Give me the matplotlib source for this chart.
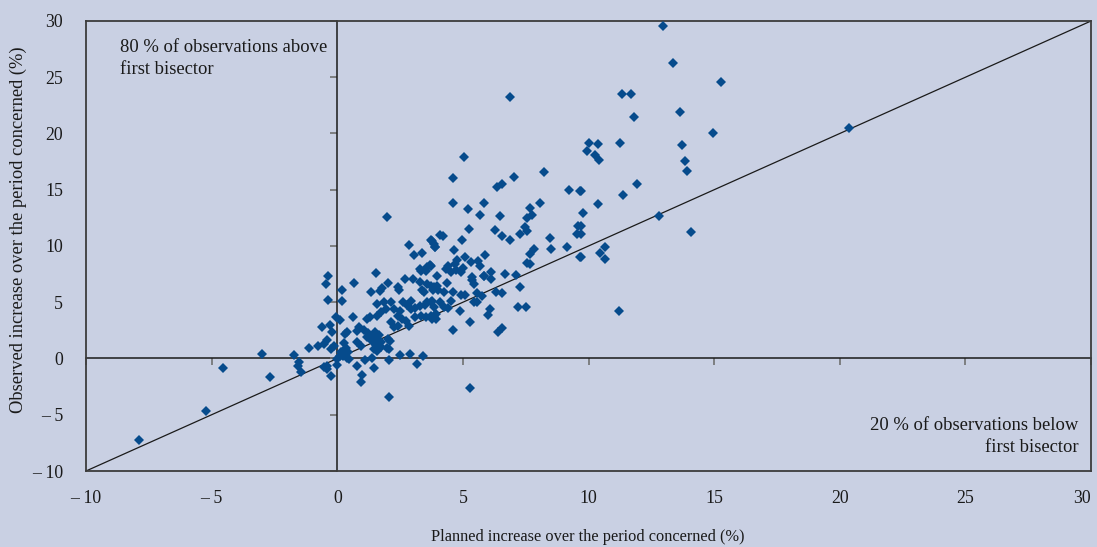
import matplotlib
matplotlib.use("Agg")
import matplotlib.pyplot as plt

# Planned vs observed increase (%) for each observation
planned = [
    12.97, 13.35, 15.26, 11.32, 11.70, 11.80, 13.65, 14.96, 11.24, 10.02,
    10.36, 9.94, 10.25, 10.41, 13.74, 13.84, 13.94, 11.95, 11.36, 9.69,
    10.37, 9.80, 12.80, 14.06, 9.69, 9.69, 10.65, 10.46, 10.65, 9.69,
    11.23, 20.36, 6.87,
    5.06, 4.60, 7.05, 8.23, 6.34, 6.57, 9.24, 9.66, 4.60, 5.84,
    5.22, 5.70, 6.46, 7.67, 8.06, 7.77, 7.57, 9.57, 9.56, 5.26,
    6.26, 7.48, 7.57, 6.56, 6.88, 7.26, 4.21, 3.72, 3.85, 3.91,
    4.98, 8.47, 8.50, 9.16, 9.65, 4.66, 5.87, 7.66, 7.83, 7.54,
    7.67, 5.10, 5.62, 5.68, 5.31, 4.77, 4.68, 4.41, 4.31, 4.52,
    4.72, 5.01, 4.92, 3.72, 3.99, 5.35, 5.83, 6.10, 6.67, 7.13,
    5.35, 5.45, 5.84, 6.11, 3.72, 3.85, 4.37, 7.26, 4.01, 4.23,
    4.59, 4.92, 5.09, 5.58, 5.78, 6.31, 6.54, 3.72, 3.85, 4.08,
    4.25, 4.52, 5.45, 5.58, 4.39, 4.88, 6.07, 6.00, 7.20, 7.50,
    3.85, 3.92, 3.72, 5.30, 4.62, 6.54, 6.38, 5.30,
    -0.38, -0.46, 1.53, 0.66, 0.19, -0.38, 0.17, 1.33, 1.69, 1.77,
    2.02, 2.40, 2.46, 2.70, 3.03, 3.32, 3.55, 3.30, 3.59, 3.39,
    3.46, 3.99, 3.81, 1.60, 1.86, 2.13, 1.93, 1.73, 1.60, 2.26,
    2.50, 2.63, 2.77, 2.95, 2.95, 3.08, 3.30, 3.48, 3.59, 3.79,
    2.40, 2.56, 2.73, 2.86, 3.08, 3.32, 3.52, 3.79, 3.92, 2.13,
    2.26, 2.40, 1.17, 1.31, 0.64, -0.05, 0.11, -0.29, -0.62, -0.19,
    0.30, 0.38, 0.80, 0.87, 1.07, 1.23, 1.33, 1.49, 1.60, 1.66,
    1.20, 1.40, 1.53, 1.73, 1.97, 1.46, 1.60, 1.73, 2.10, 2.06,
    2.02, 0.80, 0.94, 0.25, 0.34, -0.39, -0.53, -0.26, -0.13, -0.75,
    -1.12, 0.14, 0.21, 0.41, 0.38, 0.47, 0.11, 0.00, -1.72, -1.52,
    -1.58, -1.45, -0.53, -0.42, -0.39, -0.02, -0.26, 0.78, 1.00, 0.94,
    1.09, 1.40, 1.46, 2.06, 2.50, 2.90, 3.16, 3.43, 2.04,
    1.97, 2.85, 3.06, 3.39, 3.79, 3.88, 4.08, 3.30, 3.59, 3.69,
    -7.90, -5.23, -4.56, -3.00, -2.69,
]
observed = [
    29.56, 26.25, 24.56, 23.47, 23.47, 21.46, 21.93, 20.04, 19.18, 19.12,
    19.03, 18.41, 18.06, 17.64, 18.94, 17.52, 16.70, 15.48, 14.54, 14.89,
    13.77, 12.97, 12.67, 11.20, 11.78, 11.05, 9.92, 9.36, 8.83, 8.98,
    4.19, 20.50, 23.20,
    17.94, 16.02, 16.17, 16.55, 15.28, 15.51, 14.98, 14.92, 13.82, 13.80,
    13.27, 12.79, 12.64, 13.38, 13.86, 12.73, 12.47, 11.82, 11.05, 11.52,
    11.40, 11.73, 11.37, 10.93, 10.51, 11.07, 10.93, 10.51, 10.16, 9.87,
    10.54, 10.72, 9.74, 9.89, 8.98, 9.66, 9.24, 9.33, 9.72, 8.45,
    8.39, 8.98, 8.71, 8.21, 8.59, 8.74, 8.39, 8.23, 7.94, 7.65,
    7.88, 8.00, 7.65, 8.23, 7.35, 7.20, 7.35, 7.70, 7.47, 7.44,
    6.99, 6.61, 7.29, 7.05, 6.46, 6.32, 6.67, 6.37, 6.10, 5.93,
    5.87, 5.66, 5.66, 5.81, 5.52, 5.87, 5.81, 4.99, 4.54, 4.99,
    4.54, 5.08, 4.99, 4.99, 4.45, 4.21, 4.39, 3.89, 4.60, 4.54,
    3.80, 3.50, 3.80, 3.21, 2.53, 2.71, 2.32, -2.64,
    7.32, 6.61, 7.56, 6.67, 6.10, 5.16, 5.13, 5.87, 6.02, 6.23,
    6.70, 6.32, 6.10, 7.05, 7.05, 7.79, 7.79, 6.76, 6.61, 6.10,
    5.87, 6.46, 6.10, 4.84, 4.99, 4.99, 4.39, 4.15, 3.80, 4.39,
    4.24, 4.99, 4.75, 5.13, 4.39, 4.45, 4.63, 4.75, 4.99, 5.13,
    3.80, 3.50, 3.35, 2.91, 3.66, 3.80, 3.66, 3.50, 3.95, 3.21,
    2.77, 2.91, 3.50, 3.66, 3.71, 3.66, 3.44, 2.97, 2.80, 2.38,
    2.17, 2.32, 2.41, 2.77, 2.56, 2.26, 2.02, 2.32, 1.73, 2.08,
    1.88, 1.58, 1.20, 0.99, 0.90, 0.84, 0.69, 1.44, 1.58, 0.84,
    1.73, 1.44, 1.14, 1.38, 0.90, 1.67, 1.29, 0.84, 1.08, 1.14,
    0.93, 0.60, 0.20, 0.55, 0.02, -0.04, 0.20, -0.04, 0.34, -0.28,
    -0.64, -1.22, -0.78, -0.64, -0.93, -0.55, -1.53, -0.64, -1.46, -2.11,
    -0.10, 0.02, -0.87, -0.10, 0.31, 0.40, -0.49, 0.25, -3.45,
    12.62, 10.13, 9.18, 9.42, 10.45, 9.95, 10.96, 7.94, 8.09, 8.30,
    -7.23, -4.66, -0.84, 0.40, -1.64,
]

tick_values = [-10, -5, 0, 5, 10, 15, 20, 25, 30]
tick_labels = ["\u2013 10", "\u2013 5", "0", "5", "10", "15", "20", "25", "30"]

BG = "#C9D0E3"
MARK = "#064B8C"
FRAME = "#3C3C3C"
TEXT = "#1a1a1a"

plt.rcParams["font.family"] = ["Liberation Serif", "DejaVu Serif"]

fig = plt.figure(figsize=(10.97, 5.47), dpi=100, facecolor=BG)
ax = fig.add_axes([86 / 1097, 1 - 471 / 547, (1091 - 86) / 1097, (471 - 21) / 547])
ax.set_facecolor(BG)

ax.set_xlim(-10, 30)
ax.set_ylim(-10, 30)
ax.set_xticks(tick_values)
ax.set_xticklabels(tick_labels)
ax.set_yticks(tick_values)
ax.set_yticklabels(tick_labels)
ax.tick_params(axis="both", length=0, labelsize=12.8, colors=TEXT)
ax.tick_params(axis="x", pad=14)
ax.tick_params(axis="y", pad=16.5)
ax.get_xticklabels()[-1].set_horizontalalignment("right")
for sp in ax.spines.values():
    sp.set_color(FRAME)
    sp.set_linewidth(1.3)

# First bisector
ax.plot([-10, 30], [-10, 30], color=TEXT, lw=0.9, zorder=2)

# Zero lines with their own small ticks
sx = ax.secondary_xaxis(0.25)
sx.set_xticks(tick_values)
sx.tick_params(axis="x", direction="out", length=5, width=1.2, color="#707070",
               labelbottom=False, labeltop=False)
sx.spines["bottom"].set_color(TEXT)
sx.spines["bottom"].set_linewidth(1.1)

sy = ax.secondary_yaxis(0.25)
sy.set_yticks(tick_values)
sy.tick_params(axis="y", direction="out", length=5, width=1.2, color="#707070",
               labelleft=False, labelright=False)
sy.spines["left"].set_color(TEXT)
sy.spines["left"].set_linewidth(1.1)

ax.plot(planned, observed, linestyle="none", marker="D", markersize=5.0,
        color=MARK, markeredgewidth=0, zorder=3)

ax.text(-8.65, 28.4, "80 % of observations above\nfirst bisector", ha="left", va="top",
        fontsize=13.4, color=TEXT, linespacing=1.4)
ax.text(29.5, -8.65, "20 % of observations below\nfirst bisector", ha="right", va="bottom",
        fontsize=13.4, color=TEXT, linespacing=1.4)

fig.text(588 / 1097, 1 - 537 / 547, "Planned increase over the period concerned (%)",
         ha="center", va="center", fontsize=11.8, color=TEXT)
fig.text(18 / 1097, 1 - 230 / 547, "Observed increase over the period concerned (%)",
         ha="center", va="center", rotation=90, fontsize=13.3, color=TEXT)

fig.savefig("out.png", dpi=100, facecolor=BG)
